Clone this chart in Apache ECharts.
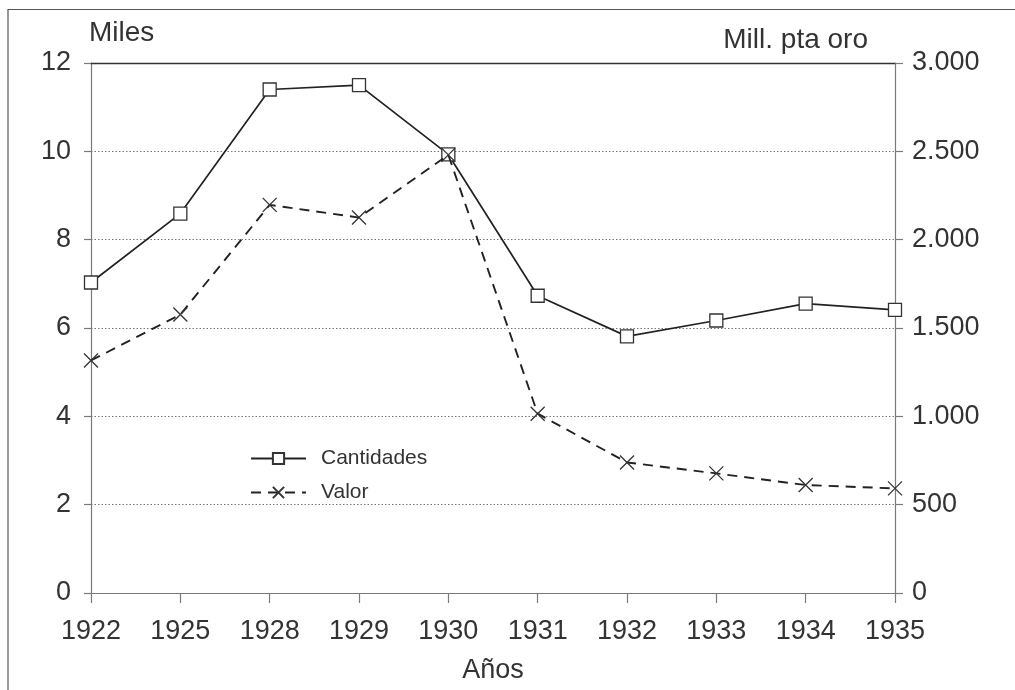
<!DOCTYPE html>
<html>
<head>
<meta charset="utf-8">
<script src="https://cdn.jsdelivr.net/npm/echarts@6/dist/echarts.min.js"></script>
<style>
html,body{margin:0;padding:0;background:#fff;}
#chart{width:1015px;height:690px;}
</style>
</head>
<body>
<div id="chart"></div>
<script>
const years = ['1922','1925','1928','1929','1930','1931','1932','1933','1934','1935'];
const cantidades = [7.03, 8.59, 11.40, 11.50, 9.93, 6.73, 5.81, 6.17, 6.55, 6.41];
const valor = [1316, 1576, 2197, 2125, 2480, 1015, 739, 677, 611, 592];
const leftLabels = ['0','2','4','6','8','10','12'];
const rightLabels = ['0','500','1.000','1.500','2.000','2.500','3.000'];

const FONT = '"Liberation Sans", Arial, sans-serif';
const TXT = '#333';
const AX = '#7a7a7a';
const LINE = '#222';

const chart = echarts.init(document.getElementById('chart'));
chart.setOption({
  animation: false,
  backgroundColor: '#fff',
  textStyle: {fontFamily: FONT, color: TXT},
  graphic: [
    {type: 'line', shape: {x1: 8, y1: 9.5, x2: 1015, y2: 9.5}, style: {stroke: '#555', lineWidth: 1.2}},
    {type: 'line', shape: {x1: 8, y1: 9, x2: 8, y2: 690}, style: {stroke: '#555', lineWidth: 1.2}}
  ],
  grid: {left: 91, right: 120, top: 63, bottom: 97, containLabel: false},
  legend: {
    left: 245, top: 443, orient: 'vertical',
    itemWidth: 55, itemHeight: 14, itemGap: 13,
    textStyle: {fontFamily: FONT, fontSize: 21, color: TXT, padding: [0, 0, 0, 10], lineHeight: 21},
    data: ['Cantidades', 'Valor']
  },
  xAxis: [{
    type: 'category', data: years, boundaryGap: false,
    name: 'Años', nameLocation: 'middle', nameGap: 64,
    nameTextStyle: {fontFamily: FONT, fontSize: 27, color: TXT},
    axisLine: {lineStyle: {color: AX, width: 1.2}},
    axisTick: {show: true, length: 10, inside: false, lineStyle: {color: AX, width: 1.2}},
    axisLabel: {fontFamily: FONT, fontSize: 27, color: TXT, margin: 25, interval: 0},
    splitLine: {show: false}
  }, {
    type: 'category', data: years, boundaryGap: false, position: 'top',
    axisLine: {show: true, onZero: false, lineStyle: {color: '#333', width: 1.4}},
    axisTick: {show: false}, axisLabel: {show: false}, splitLine: {show: false}
  }],
  yAxis: [{
    type: 'value', min: 0, max: 12, interval: 2, position: 'left',
    name: 'Miles', nameLocation: 'end', nameGap: 16,
    nameTextStyle: {fontFamily: FONT, fontSize: 28, color: TXT, align: 'left', padding: [0, 0, 0, -2]},
    axisLine: {show: true, lineStyle: {color: AX, width: 1.2}},
    axisTick: {show: true, length: 7, lineStyle: {color: AX, width: 1.2}},
    axisLabel: {fontFamily: FONT, fontSize: 27, color: TXT, margin: 20, formatter: v => leftLabels[v / 2]},
    splitLine: {show: true, lineStyle: {color: '#777', type: [1.5, 2], width: 1}}
  }, {
    type: 'value', min: 0, max: 3000, interval: 500, position: 'right',
    name: 'Mill. pta oro', nameLocation: 'end', nameGap: 9,
    nameTextStyle: {fontFamily: FONT, fontSize: 28, color: TXT, align: 'right', padding: [0, 27, 0, 0]},
    axisLine: {show: true, lineStyle: {color: AX, width: 1.2}},
    axisTick: {show: true, length: 8, lineStyle: {color: AX, width: 1.2}},
    axisLabel: {fontFamily: FONT, fontSize: 27, color: TXT, margin: 17, formatter: v => rightLabels[v / 500]},
    splitLine: {show: false}
  }],
  series: [{
    name: 'Cantidades', type: 'line', xAxisIndex: 0, yAxisIndex: 0, data: cantidades,
    symbol: 'rect', symbolSize: 13, z: 2,
    lineStyle: {color: LINE, width: 1.7},
    itemStyle: {color: '#fff', borderColor: '#333', borderWidth: 1.3}
  }, {
    name: 'Valor', type: 'line', xAxisIndex: 0, yAxisIndex: 1, data: valor,
    symbol: 'path://M0 0L10 10M10 0L0 10', symbolSize: 14, z: 3,
    lineStyle: {color: LINE, width: 1.9, type: [10, 7]},
    itemStyle: {color: 'rgba(0,0,0,0)', borderColor: '#333', borderWidth: 1.3}
  }]
});
</script>
</body>
</html>
